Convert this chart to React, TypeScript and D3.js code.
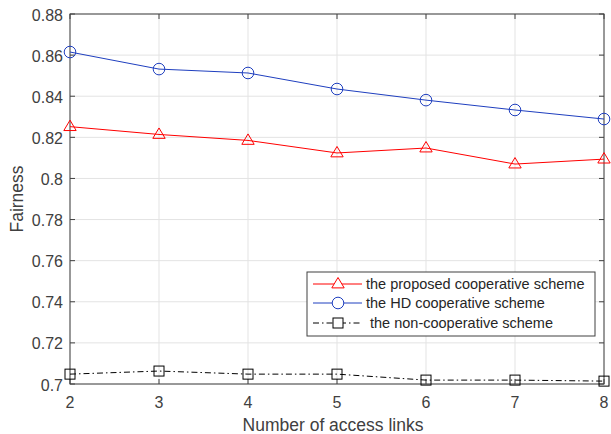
import React from "react";
import * as d3 from "d3";

const xValues = [2, 3, 4, 5, 6, 7, 8];
const proposed = [0.8252, 0.8214, 0.8185, 0.8124, 0.8148, 0.807, 0.8094];
const hd = [0.8615, 0.8532, 0.8513, 0.8435, 0.8381, 0.8333, 0.8289];
const nonCoop = [0.7048, 0.7063, 0.7048, 0.7048, 0.7019, 0.7019, 0.7014];
const yTicks = [0.7, 0.72, 0.74, 0.76, 0.78, 0.8, 0.82, 0.84, 0.86, 0.88];
const legendLabels = [
  "the proposed cooperative scheme",
  "the HD cooperative scheme",
  " the non-cooperative scheme",
];

const W = 611, H = 434;
const L = 70, R = 604, T = 14, B = 384;

export default function App() {
  const x = d3.scaleLinear().domain([2, 8]).range([L, R]);
  const y = d3.scaleLinear().domain([0.7, 0.88]).range([B, T]);
  const line = d3.line<number>().x((_, i) => x(xValues[i])).y((d) => y(d));
  const axisColor = "#404040";
  const font = "Liberation Sans, Arial, sans-serif";

  const tri = (cx: number, cy: number, s = 6.5) =>
    `M${cx},${cy - s} L${cx + s * 0.95},${cy + s * 0.6} L${cx - s * 0.95},${cy + s * 0.6} Z`;

  return (
    <svg width={W} height={H} style={{ position: "absolute", left: 0, top: 0 }}>
      <rect x={0} y={0} width={W} height={H} fill="#fff" />
      {xValues.map((v) => (
        <line key={"gx" + v} x1={x(v)} x2={x(v)} y1={T} y2={B} stroke="#e3e3e3" strokeWidth={1} />
      ))}
      {yTicks.map((v) => (
        <line key={"gy" + v} x1={L} x2={R} y1={y(v)} y2={y(v)} stroke="#e3e3e3" strokeWidth={1} />
      ))}
      <rect x={L} y={T} width={R - L} height={B - T} fill="none" stroke={axisColor} strokeWidth={1} />
      {xValues.map((v) => (
        <g key={"tx" + v}>
          <line x1={x(v)} x2={x(v)} y1={B} y2={B - 5} stroke={axisColor} />
          <line x1={x(v)} x2={x(v)} y1={T} y2={T + 5} stroke={axisColor} />
          <text x={x(v)} y={B + 24} textAnchor="middle" fontSize={16} fill={axisColor} fontFamily={font}>
            {v}
          </text>
        </g>
      ))}
      {yTicks.map((v) => (
        <g key={"ty" + v}>
          <line x1={L} x2={L + 5} y1={y(v)} y2={y(v)} stroke={axisColor} />
          <line x1={R} x2={R - 5} y1={y(v)} y2={y(v)} stroke={axisColor} />
          <text x={L - 7} y={y(v) + 6.5} textAnchor="end" fontSize={16} fill={axisColor} fontFamily={font}>
            {d3.format("")(+v.toFixed(2))}
          </text>
        </g>
      ))}
      <text x={(L + R) / 2 - 4} y={431} textAnchor="middle" fontSize={17.5} fill={axisColor} fontFamily={font}>
        Number of access links
      </text>
      <text
        transform={`translate(23,${(T + B) / 2}) rotate(-90)`}
        textAnchor="middle"
        fontSize={17.5}
        fill={axisColor}
        fontFamily={font}
      >
        Fairness
      </text>
      <path d={line(proposed) || ""} fill="none" stroke="#ff0000" strokeWidth={1} />
      {proposed.map((v, i) => (
        <path key={"p" + i} d={tri(x(xValues[i]), y(v))} fill="none" stroke="#ff0000" strokeWidth={1} />
      ))}
      <path d={line(hd) || ""} fill="none" stroke="#1f3fbf" strokeWidth={1} />
      {hd.map((v, i) => (
        <circle key={"h" + i} cx={x(xValues[i])} cy={y(v)} r={5.8} fill="none" stroke="#1f3fbf" strokeWidth={1} />
      ))}
      <path d={line(nonCoop) || ""} fill="none" stroke="#000" strokeWidth={1} strokeDasharray="6,3,1.5,3" />
      {nonCoop.map((v, i) => (
        <rect key={"n" + i} x={x(xValues[i]) - 5} y={y(v) - 5} width={10} height={10} fill="none" stroke="#000" strokeWidth={1} />
      ))}
      <rect x={307} y={272} width={288} height={64} fill="#fff" stroke={axisColor} strokeWidth={1} />
      {[0, 1, 2].map((i) => {
        const ly = [284, 303, 323][i];
        const colors = ["#ff0000", "#1f3fbf", "#000"];
        return (
          <g key={"lg" + i}>
            <line x1={313} x2={362} y1={ly} y2={ly} stroke={colors[i]} strokeWidth={1} strokeDasharray={i === 2 ? "6,3,1.5,3" : undefined} />
            {i === 0 && <path d={tri(338, ly)} fill="#fff" stroke={colors[i]} />}
            {i === 1 && <circle cx={338} cy={ly} r={5.8} fill="#fff" stroke={colors[i]} />}
            {i === 2 && <rect x={333} y={ly - 5} width={10} height={10} fill="#fff" stroke={colors[i]} />}
            <text x={366} y={ly + 5} fontSize={14.5} fill="#262626" fontFamily={font} style={{ whiteSpace: "pre" }}>
              {legendLabels[i]}
            </text>
          </g>
        );
      })}
    </svg>
  );
}
